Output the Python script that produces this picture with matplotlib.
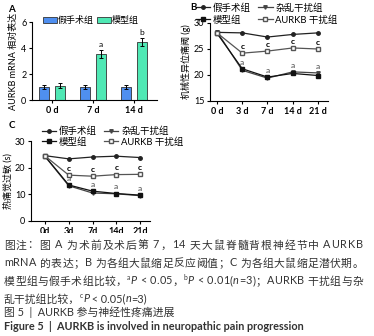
import numpy as np
import matplotlib.pyplot as plt
from matplotlib.patches import Rectangle

plt.rcParams['font.family'] = ['Lato', 'Noto Sans CJK SC', 'DejaVu Sans']
plt.rcParams['axes.linewidth'] = 0.8

# ---- data ----
days_a = ["0 d", "7 d", "14 d"]
sham_a = [1.0, 1.0, 1.0]
sham_a_err = [0.15, 0.12, 0.15]
model_a = [1.1, 3.55, 4.45]
model_a_err = [0.18, 0.3, 0.3]

days_bc = ["0 d", "3 d", "7 d", "14 d", "21 d"]
groups = ["假手术组", "杂乱干扰组", "模型组", "AURKB 干扰组"]
sham_b = [28.2, 28.1, 27.3, 27.8, 28.1]
scr_b = [28.3, 20.9, 19.4, 20.6, 20.4]
model_b = [28.0, 21.2, 19.6, 20.3, 19.9]
kd_b = [28.1, 24.2, 24.6, 25.2, 25.0]

sham_c = [24.5, 23.3, 24.0, 24.3, 23.8]
scr_c = [24.2, 13.2, 10.5, 10.2, 9.5]
model_c = [24.3, 13.5, 11.2, 10.3, 9.7]
kd_c = [24.4, 17.2, 16.8, 17.4, 17.5]

# (segments, justify)
caption = [
    ([("图注：图 A 为术前及术后第 7，14 天大鼠脊髓背根神经节中 AURKB", "")], True),
    ([("mRNA 的表达；B 为各组大鼠缩足反应阈值；C 为各组大鼠缩足潜伏期。", "")], True),
    ([("模型组与假手术组比较，", ""), ("a", "sup"), ("P", "it"), (" < 0.05，", ""),
      ("b", "sup"), ("P", "it"), (" < 0.01(", ""), ("n", "it"),
      ("=3)；AURKB 干扰组与杂", "")], True),
    ([("乱干扰组比较，", ""), ("c", "sup"), ("P", "it"), (" < 0.05(", ""),
      ("n", "it"), ("=3)", "")], False),
    ([("图 5  |  AURKB 参与神经性疼痛进展", "")], False),
    ([("Figure 5  |  AURKB is involved in neuropathic pain progression", "bold")], False),
]

fig = plt.figure(figsize=(3.74, 3.36), dpi=100)
W, H = 374, 336


def px_axes(l, t, r, b):
    return fig.add_axes([l / W, 1 - b / H, (r - l) / W, (b - t) / H])


def style_ax(ax):
    for s in ("top", "right"):
        ax.spines[s].set_visible(False)
    ax.tick_params(labelsize=6.5, length=2.5, width=0.8, pad=1.5)


# ---- A ----
axA = px_axes(32, 22, 157, 100)
x = np.arange(len(days_a))
bw = 0.24
axA.bar(x - 0.19, sham_a, bw, yerr=sham_a_err, color="#4f8ff0", edgecolor="#333",
        lw=0.6, capsize=1.5, error_kw=dict(lw=0.7, capthick=0.7), label="假手术组")
axA.bar(x + 0.19, model_a, bw, yerr=model_a_err, color="#4fe8b4", edgecolor="#333",
        lw=0.6, capsize=1.5, error_kw=dict(lw=0.7, capthick=0.7), label="模型组")
for xi, t in [(1, "a"), (2, "b")]:
    axA.text(xi + 0.19, model_a[xi] + model_a_err[xi] + 0.15, t, ha="center",
             va="bottom", fontsize=6)
axA.set_xlim(-0.49, 2.56)
axA.set_ylim(0, 6)
axA.set_yticks([0, 2, 4, 6])
axA.set_xticks(x)
axA.set_xticklabels(days_a, fontweight="bold")
axA.set_ylabel("AURKB mRNA 相对表达", fontsize=6.5, labelpad=2)
style_ax(axA)
axA.legend(loc="lower left", bbox_to_anchor=(0.05, 0.9), ncol=2, frameon=False,
           fontsize=6.5, handlelength=1.6, handleheight=0.6, columnspacing=0.3,
           handletextpad=0.1, borderpad=0)


def line_panel(ax, sham, scr, model, kd, ylim, yticks, labels):
    xx = np.arange(len(labels))
    h_sham, = ax.plot(xx, sham, "-o", color="#222", ms=2.5, lw=0.9)
    h_scr, = ax.plot(xx, scr, "-v", color="#444", ms=2.5, lw=0.9)
    h_model, = ax.plot(xx, model, "-s", color="#111", ms=2.8, lw=0.9)
    h_kd, = ax.plot(xx, kd, "-s", color="#555", mfc="white", ms=2.8, lw=0.9)
    span = ylim[1] - ylim[0]
    for i in range(1, len(labels)):
        ax.text(i, kd[i] + 0.04 * span, "c", ha="center", va="bottom", fontsize=6,
                fontweight="bold")
        ax.text(i, max(model[i], scr[i]) + 0.04 * span, "a", ha="center", va="bottom",
                fontsize=6, color="#444")
    ax.set_ylim(*ylim)
    ax.set_yticks(yticks)
    ax.set_xticks(xx)
    ax.set_xticklabels(labels, fontweight="bold")
    style_ax(ax)
    # column-wise fill: rows read sham/scramble, model/AURKB
    return [h_sham, h_model, h_scr, h_kd], [groups[0], groups[2], groups[1], groups[3]]


# ---- B ----
axB = px_axes(210, 23, 328, 101)
hB, lB = line_panel(axB, sham_b, scr_b, model_b, kd_b, (15, 30), [15, 20, 25, 30], days_bc)
axB.set_xlim(-0.28, 4.4)
axB.set_ylabel("机械性异位痛阈 (g)", fontsize=6.5, labelpad=2)
axB.legend(hB, lB, loc="lower left", bbox_to_anchor=(-0.16, 0.92), ncol=2, frameon=False,
           fontsize=6.8, handlelength=1.5, columnspacing=0.8, handletextpad=0.3,
           labelspacing=0.25, borderpad=0)

# ---- C ----
axC = px_axes(31, 141, 150, 221)
hC, lC = line_panel(axC, sham_c, scr_c, model_c, kd_c, (0, 30), [0, 10, 20, 30],
                    [d.replace(" ", "") for d in days_bc])
axC.set_xlim(-0.59, 4.42)
axC.set_ylabel("热痛觉过敏 (s)", fontsize=6.5, labelpad=2)
axC.legend(hC, lC, loc="lower left", bbox_to_anchor=(0.05, 0.87), ncol=2, frameon=False,
           fontsize=6.8, handlelength=1.5, columnspacing=0.8, handletextpad=0.3,
           labelspacing=0.1, borderpad=0)

fig.text(8 / W, 1 - 9 / H, "A", fontsize=7, fontweight="bold", va="center")
fig.text(190 / W, 1 - 7 / H, "B", fontsize=7, fontweight="bold", va="center")
fig.text(9 / W, 1 - 126 / H, "C", fontsize=7, fontweight="bold", va="center")

# white band under panel C, caption on top
fig.patches.append(Rectangle((0, 0), 1, 1 - 233 / H, transform=fig.transFigure,
                             facecolor="white", edgecolor="none", zorder=5))

renderer = fig.canvas.get_renderer()
line_y = [245, 263, 281, 299, 312, 327]
x0, x1 = 4, 363
for (segs, justify), yy in zip(caption, line_y):
    # lay out each character, then spread extra room over the gaps
    pieces = []
    for s, st in segs:
        kw = dict(fontsize=7.8, color="#333", va="center", zorder=6)
        dy = 0
        if st == "sup":
            kw["fontsize"] = 4.8
            dy = 3.5
        elif st == "it":
            kw["style"] = "italic"
        elif st == "bold":
            kw["fontweight"] = "bold"
        chars = list(s) if justify else [s]
        for ch in chars:
            t = fig.text(0, 1 - (yy - dy) / H, ch, **kw)
            w = t.get_window_extent(renderer).width if ch.strip() else \
                fig.text(0, 0, "a a", **kw).get_window_extent(renderer).width - \
                fig.text(0, 0, "aa", **kw).get_window_extent(renderer).width
            pieces.append((t, w))
    # remove helper measuring texts
    keep = {id(p[0]) for p in pieces}
    for t in list(fig.texts):
        if t.get_position() == (0, 0) and id(t) not in keep:
            t.remove()
    total = sum(w for _, w in pieces)
    gap = (x1 - x0 - total) / max(len(pieces) - 1, 1) if justify else 0
    xpos = x0
    for t, w in pieces:
        t.set_x(xpos / W)
        xpos += w + gap

fig.savefig("out.png", dpi=100)
